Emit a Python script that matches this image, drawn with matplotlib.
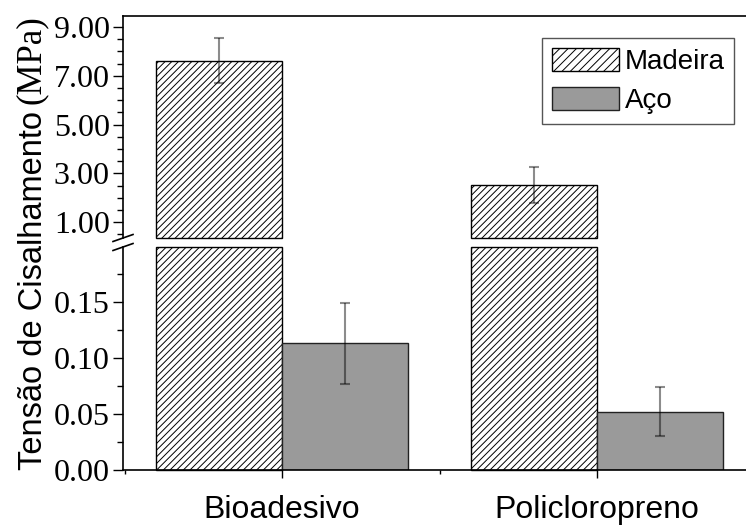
# broken-axis bar chart: shear strength of two adhesives on wood and steel

import numpy as np
import matplotlib
matplotlib.use('Agg')
import matplotlib.pyplot as plt
from matplotlib.ticker import FixedLocator, FormatStrFormatter

# data
categories = ['Bioadesivo', 'Policloropreno']
series = ['Madeira', 'Aço']
madeira = np.array([7.62, 2.52])
madeira_err = np.array([0.93, 0.74])
aco = np.array([0.113, 0.052])
aco_err = np.array([0.036, 0.022])

# axis ranges and ticks
upper_lim = (0.35, 9.45)
lower_lim = (0.0, 0.199)
upper_ticks = [1, 3, 5, 7, 9]
lower_ticks = [0.0, 0.05, 0.10, 0.15]

serif = 'Liberation Serif'
sans = 'Liberation Sans'
gray = '#9a9a9a'
plt.rcParams['hatch.linewidth'] = 0.7

W, H = 746, 526
fig = plt.figure(figsize=(W / 100, H / 100), dpi=100)
left = 123 / W
ax_up = fig.add_axes([left, 1 - 238 / H, 1 - left, (238 - 16) / H])
ax_lo = fig.add_axes([left, 1 - 470 / H, 1 - left, (470 - 247) / H])

x = np.arange(len(categories))
w = 0.4
err_kw = dict(fmt='none', ecolor='black', alpha=0.45, capsize=3.5,
              elinewidth=1.5, capthick=1.5)

# lower panel
ax_lo.bar(x - w / 2, np.minimum(madeira, lower_lim[1]), w, facecolor='white',
          edgecolor='black', hatch='/////', lw=1, clip_on=False)
bars_aco = ax_lo.bar(x + w / 2, aco, w, facecolor=gray, edgecolor='#222222', lw=1)
ax_lo.errorbar(x + w / 2, aco, yerr=aco_err, **err_kw)

# upper panel
bars_mad = ax_up.bar(x - w / 2, madeira - upper_lim[0], w, bottom=upper_lim[0],
                     facecolor='white', edgecolor='black', hatch='/////', lw=1,
                     clip_on=False)
ax_up.errorbar(x - w / 2, madeira, yerr=madeira_err, **err_kw)

ax_up.set_ylim(*upper_lim)
ax_up.spines['bottom'].set_visible(False)
ax_up.tick_params(axis='x', which='both', bottom=False, labelbottom=False)
ax_up.yaxis.set_major_locator(FixedLocator(upper_ticks))
ax_up.yaxis.set_minor_locator(FixedLocator(np.arange(0.5, 9.5, 0.5)))

ax_lo.set_ylim(*lower_lim)
ax_lo.spines['top'].set_visible(False)
ax_lo.yaxis.set_major_locator(FixedLocator(lower_ticks))
ax_lo.yaxis.set_minor_locator(FixedLocator([0.025, 0.075, 0.125, 0.175]))
ax_lo.set_xticks(x)
ax_lo.set_xticklabels(categories, fontfamily=sans, fontsize=23)
ax_lo.set_xticks([-0.5, 0.5, 1.5], minor=True)
ax_lo.tick_params(axis='x', which='major', length=6, width=1, pad=12)
ax_lo.tick_params(axis='x', which='minor', length=3, width=1)

for ax in (ax_up, ax_lo):
    ax.set_xlim(-0.505, 1.473)
    ax.spines['right'].set_visible(False)
    for s in ax.spines.values():
        s.set_linewidth(1.2)
    ax.tick_params(axis='y', which='major', length=7.5, width=1, pad=2)
    ax.tick_params(axis='y', which='minor', length=4, width=1)
    ax.yaxis.set_major_formatter(FormatStrFormatter('%.2f'))
    for lab in ax.get_yticklabels():
        lab.set_fontfamily(serif)
        lab.set_fontsize(23)

# break marks on the left spine
dx = 10 / (W - 123)
ax_up.plot([-dx, dx], [-3.5 / 222, 3.5 / 222], transform=ax_up.transAxes,
           color='black', lw=1.2, clip_on=False)
ax_lo.plot([-dx, dx], [1 - 3.5 / 223, 1 + 3.5 / 223], transform=ax_lo.transAxes,
           color='black', lw=1.2, clip_on=False)

# legend
leg = ax_up.legend([bars_mad, bars_aco], series, loc='upper right',
                   bbox_to_anchor=(0.981, 0.901), borderaxespad=0,
                   prop={'family': sans, 'size': 20}, handlelength=2.4,
                   handleheight=0.9, handletextpad=0.2, labelspacing=0.45,
                   borderpad=0.35, fancybox=False, framealpha=1)
leg.get_frame().set_edgecolor('#555555')
leg.get_frame().set_linewidth(1)
leg.legend_handles[0].set_hatch('////')

# y label: sans part + serif units
fig.text(42 / W, 1 - 470 / H, 'Tensão de Cisalhamento', rotation=90,
         rotation_mode='anchor', ha='left', va='baseline',
         fontfamily=sans, fontsize=23.5)
fig.text(40 / W, 1 - 104 / H, '(MPa)', rotation=90,
         rotation_mode='anchor', ha='left', va='baseline',
         fontfamily=serif, fontsize=25)

fig.savefig('out.png', dpi=100)
